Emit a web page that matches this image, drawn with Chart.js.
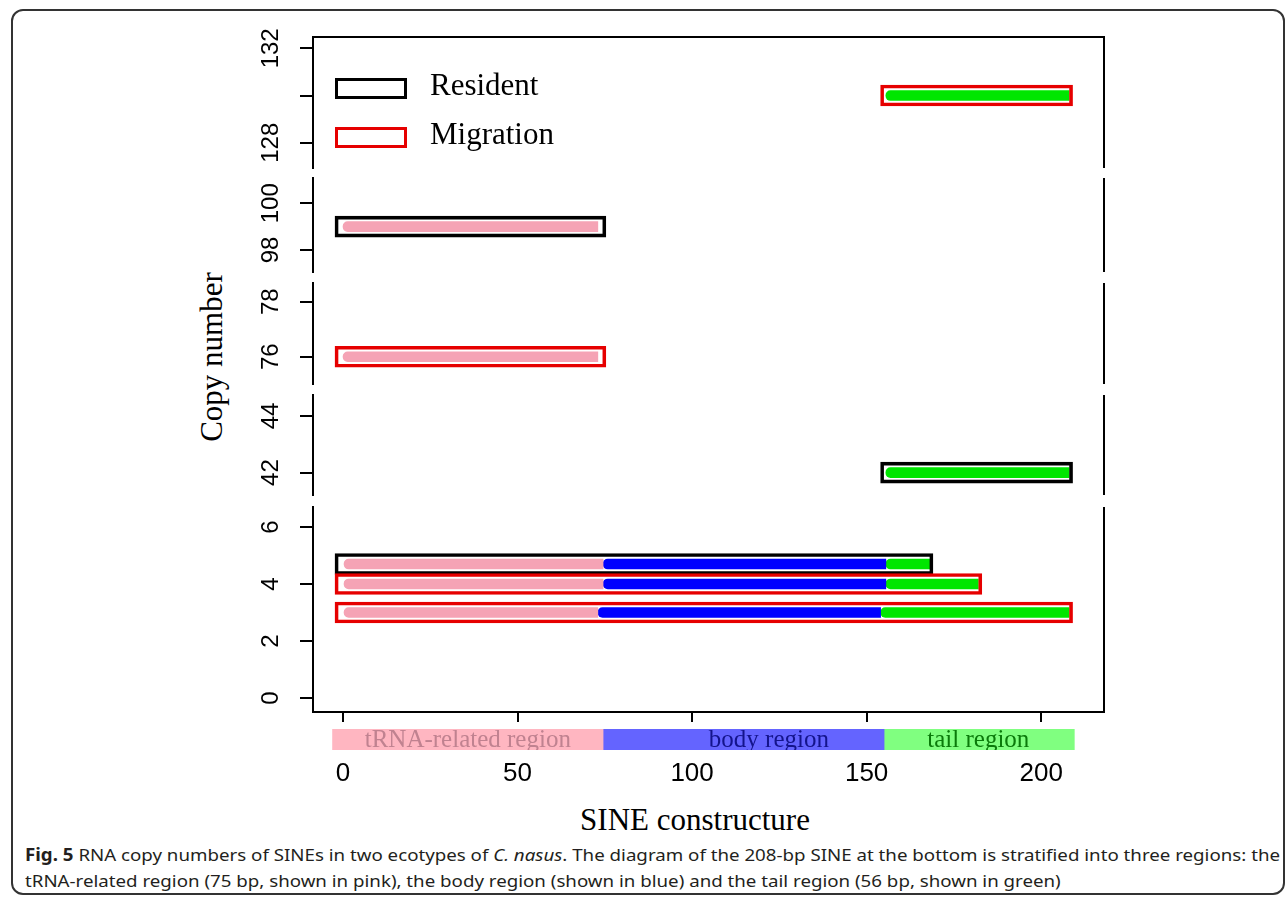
<!DOCTYPE html>
<html>
<head>
<meta charset="utf-8">
<script src="https://cdn.jsdelivr.net/npm/chart.js@4.4.1/dist/chart.umd.min.js"></script>
<style>
  body { margin: 0; background: #fff; width: 1287px; height: 902px; position: relative; overflow: hidden; }
  canvas { position: absolute; }
  .frame { position: absolute; left: 11px; top: 9px; width: 1274px; height: 886px; border: 2px solid #333; border-radius: 12px; box-sizing: border-box; }
  .title { position: absolute; font-family: "Liberation Serif", serif; font-size: 31px; color: #000; white-space: nowrap; }
  .cap { position: absolute; left: 25px; font-family: "Noto Sans", "Open Sans", sans-serif; font-size: 17px; line-height: 20px; color: #231f20; white-space: nowrap; transform-origin: 0 50%; }
  .cap b { font-weight: 700; }
</style>
</head>
<body>
<div class="frame"></div>
<div class="title" id="ytitle" style="left:212px;top:357px;transform:translate(-50%,-50%) rotate(-90deg);">Copy number</div>
<div class="title" style="left:695px;top:820px;transform:translate(-50%,-50%);">SINE constructure</div>
<div class="cap" id="cap1" style="top:845px;"><b>Fig. 5</b> RNA copy numbers of SINEs in two ecotypes of <i>C. nasus</i>. The diagram of the 208-bp SINE at the bottom is stratified into three regions: the</div>
<div class="cap" id="cap2" style="top:871px;">tRNA-related region (75&nbsp;bp, shown in pink), the body region (shown in blue) and the tail region (56&nbsp;bp, shown in green)</div>
<script>
// x axis (SINE position, bp)
const xMin = -8.6, xMax = 218;
const xTicks = [0, 50, 100, 150, 200];

// broken y axis, one panel per range (top to bottom)
const panelRanges = [[126.93, 132.48], [97.06, 101.08], [75.01, 78.68], [41.21, 44.74], [-0.49, 6.70]];
const panelTicks = [[128, 130, 132], [98, 100], [76, 78], [42, 44], [0, 2, 4, 6]];
const panelTickLabels = [['128', '', '132'], ['98', '100'], ['76', '78'], ['42', '44'], ['0', '2', '4', '6']];

const ecotypes = ['Resident', 'Migration'];
const ecotypeColors = ['#000000', '#e60000'];

// one entry per SINE copy
const copyPanel = [0, 1, 2, 3, 4, 4, 4];
const copyNumber = [130, 99, 76, 42, 4.7, 4, 3];
const copyEcotype = [1, 0, 1, 0, 0, 1, 1];
const boxStart = [154, -2.3, -2.3, 154, -2.3, -2.3, -2.3];
const boxEnd = [209, 75.3, 75.3, 209, 169, 183, 209];
const tRNAPart = [null, [0, 73], [0, 73], null, [0, 74.5], [0, 74.5], [0, 73]];
const bodyPart = [null, null, null, null, [74.5, 155.5], [74.5, 155.5], [73, 154]];
const tailPart = [[155.5, 208], null, null, [155.5, 208], [155.5, 168.5], [155.5, 182], [154, 208]];

// SINE diagram under the axis
const regionNames = ['tRNA-related region', 'body region', 'tail region'];
const regionSpans = [[-3, 74.5], [74.5, 155], [155, 209.5]];
const regionLabelAt = [35.75, 122, 182];

const partColors = ['#f5a3b5', '#0000ff', '#00e600'];
const regionFill = ['#ffb6c1', '#6464ff', '#80ff80'];
const regionText = ['#c08290', '#14148c', '#0a7a0a'];

// layout
const plotLeft = 313, plotRight = 1104;
const panelTop = [37, 178, 283, 395, 507];
const panelBottom = [168, 272, 384, 495, 712];
const canvasLeft = 220;

const framePlugin = {
  id: 'frame',
  afterDraw(chart, args, opts) {
    const { ctx, chartArea: a } = chart;
    ctx.save();
    ctx.strokeStyle = '#000';
    ctx.lineWidth = 2;
    ctx.beginPath();
    ctx.moveTo(a.right, a.top);
    ctx.lineTo(a.right, a.bottom);
    if (opts.top) {
      ctx.moveTo(a.left - 1, a.top);
      ctx.lineTo(a.right + 1, a.top);
    }
    ctx.stroke();
    // y tick labels, parallel to the axis
    const ys = chart.scales.y;
    ctx.fillStyle = '#000';
    ctx.font = '24px "Liberation Sans", Arial, sans-serif';
    ctx.textAlign = 'center';
    ctx.textBaseline = 'alphabetic';
    panelTicks[opts.panel].forEach((v, j) => {
      const lab = panelTickLabels[opts.panel][j];
      if (!lab) return;
      ctx.save();
      ctx.translate(a.left - 35, ys.getPixelForValue(v));
      ctx.rotate(-Math.PI / 2);
      ctx.fillText(lab, 0, 0);
      ctx.restore();
    });
    ctx.restore();
  }
};

const legendPlugin = {
  id: 'boxLegend',
  afterDraw(chart, args, opts) {
    if (!opts.show) return;
    const { ctx, chartArea: a } = chart;
    ctx.save();
    ecotypes.forEach((name, k) => {
      const y = a.top + 41 + k * 49;
      ctx.strokeStyle = ecotypeColors[k];
      ctx.lineWidth = 3;
      ctx.strokeRect(a.left + 23.5, y + 1.5, 69, 18);
      ctx.fillStyle = '#000';
      ctx.font = '31px "Liberation Serif", serif';
      ctx.textAlign = 'left';
      ctx.textBaseline = 'middle';
      ctx.fillText(name, a.left + 117, y + 9);
    });
    ctx.restore();
  }
};

function pick(arr, idx) {
  return idx.filter(i => arr[i]).map(i => ({ x: arr[i], y: copyNumber[i] }));
}

function makePanel(p) {
  const pad = 4, padTop = 30;
  const last = p === panelTop.length - 1;
  const top = panelTop[p] - padTop;
  const bottom = last ? 800 : panelBottom[p] + pad;
  const cv = document.createElement('canvas');
  cv.width = plotRight + pad - canvasLeft;
  cv.height = bottom - top;
  cv.style.left = canvasLeft + 'px';
  cv.style.top = top + 'px';
  document.body.appendChild(cv);

  const idx = copyPanel.map((q, i) => q === p ? i : -1).filter(i => i >= 0);
  const inner = { barThickness: 10, borderWidth: 0, borderRadius: 5, borderSkipped: 'end', grouped: false };

  new Chart(cv, {
    type: 'bar',
    data: {
      datasets: [
        {
          label: 'copies',
          data: idx.map(i => ({ x: [boxStart[i], boxEnd[i]], y: copyNumber[i] })),
          backgroundColor: 'rgba(0,0,0,0)',
          borderColor: idx.map(i => ecotypeColors[copyEcotype[i]]),
          borderWidth: 3, borderSkipped: false, barThickness: 21, grouped: false
        },
        Object.assign({ label: 'tRNA', data: pick(tRNAPart, idx), backgroundColor: partColors[0] }, inner),
        Object.assign({ label: 'body', data: pick(bodyPart, idx), backgroundColor: partColors[1] }, inner),
        Object.assign({ label: 'tail', data: pick(tailPart, idx), backgroundColor: partColors[2] }, inner)
      ]
    },
    options: {
      indexAxis: 'y',
      responsive: false,
      animation: false,
      events: [],
      layout: { padding: { left: 0, right: pad, top: padTop, bottom: last ? 0 : pad } },
      plugins: {
        legend: { display: false },
        tooltip: { enabled: false },
        frame: { top: p === 0, panel: p },
        boxLegend: { show: p === 0 }
      },
      scales: {
        y: {
          type: 'linear',
          offset: false,
          min: panelRanges[p][0],
          max: panelRanges[p][1],
          afterBuildTicks: s => { s.ticks = panelTicks[p].map(v => ({ value: v })); },
          afterFit: s => { s.width = plotLeft - canvasLeft; },
          ticks: { display: false },
          grid: { display: true, offset: false, drawOnChartArea: false, drawTicks: true, tickLength: 13, color: '#000', lineWidth: 2 },
          border: { display: true, color: '#000', width: 2 }
        },
        x: {
          type: 'linear',
          display: last,
          min: xMin,
          max: xMax,
          afterBuildTicks: s => { s.ticks = xTicks.map(v => ({ value: v })); },
          afterFit: s => { if (last) s.height = bottom - panelBottom[p]; },
          ticks: { color: '#000', font: { family: '"Liberation Sans", Arial, sans-serif', size: 26 }, padding: 36, maxRotation: 0 },
          grid: { display: true, drawOnChartArea: false, drawTicks: true, tickLength: 10, color: '#000', lineWidth: 2 },
          border: { display: true, color: '#000', width: 2 }
        }
      }
    },
    plugins: [framePlugin, legendPlugin]
  });
}

panelTop.forEach((t, p) => makePanel(p));

// SINE region diagram
const strip = document.createElement('canvas');
strip.width = plotRight - plotLeft;
strip.height = 21;
strip.style.left = plotLeft + 'px';
strip.style.top = '729px';
document.body.appendChild(strip);

const regionLabels = {
  id: 'regionLabels',
  afterDatasetsDraw(chart) {
    const { ctx } = chart;
    const xs = chart.scales.x;
    const mid = (chart.chartArea.top + chart.chartArea.bottom) / 2;
    ctx.save();
    ctx.font = '25px "Liberation Serif", serif';
    ctx.textAlign = 'center';
    ctx.textBaseline = 'middle';
    regionNames.forEach((n, k) => {
      ctx.fillStyle = regionText[k];
      ctx.fillText(n, xs.getPixelForValue(regionLabelAt[k]), mid + 1);
    });
    ctx.restore();
  }
};

new Chart(strip, {
  type: 'bar',
  data: {
    labels: ['SINE'],
    datasets: regionNames.map((n, k) => ({
      label: n,
      data: [regionSpans[k]],
      backgroundColor: regionFill[k],
      borderWidth: 0,
      barPercentage: 1,
      categoryPercentage: 1,
      grouped: false
    }))
  },
  options: {
    indexAxis: 'y',
    responsive: false,
    animation: false,
    events: [],
    layout: { padding: 0 },
    plugins: { legend: { display: false }, tooltip: { enabled: false } },
    scales: {
      x: { type: 'linear', min: xMin, max: xMax, display: false },
      y: { display: false }
    }
  },
  plugins: [regionLabels]
});

// fit caption lines to the figure width
const cap1 = document.getElementById('cap1');
const cap2 = document.getElementById('cap2');
const k = 1255 / cap1.getBoundingClientRect().width;
cap1.style.transform = 'scaleX(' + k + ')';
cap2.style.transform = 'scaleX(' + k + ')';
</script>
</body>
</html>
